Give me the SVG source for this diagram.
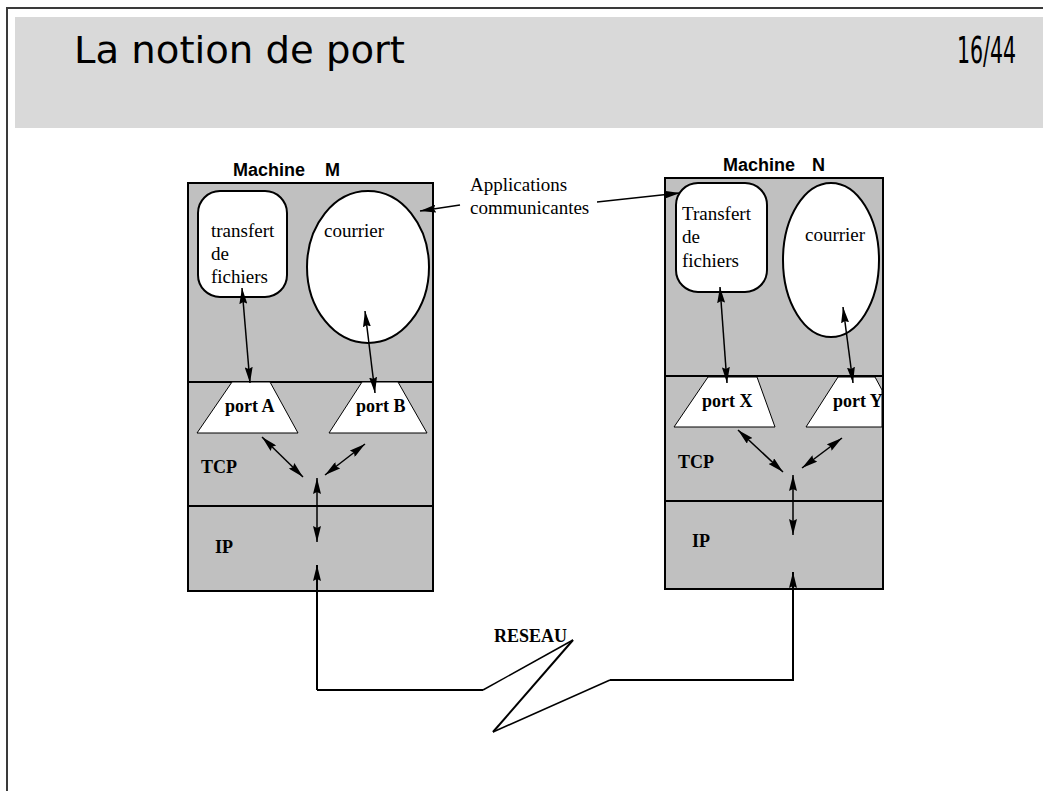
<svg xmlns="http://www.w3.org/2000/svg" width="1043" height="791" viewBox="0 0 1043 791">
  <style>
    .frame { fill: none; stroke: #3a3a3a; stroke-width: 2; }
    .band { fill: #d9d9d9; }
    .title { font-family: "DejaVu Sans Condensed", "DejaVu Sans", sans-serif; font-size: 38px; fill: #000; }
    .machine { fill: #c0c0c0; stroke: #000; stroke-width: 2; }
    .sep { stroke: #000; stroke-width: 2; }
    .app { fill: #fff; stroke: #000; stroke-width: 2; }
    .port { fill: #fff; stroke: #000; stroke-width: 1; }
    .serif { font-family: "Liberation Serif", "Times New Roman", serif; font-size: 19px; fill: #000; }
    .bold { font-family: "Liberation Serif", "Times New Roman", serif; font-size: 18px; font-weight: bold; fill: #000; }
    .head { font-family: "Liberation Sans", Arial, sans-serif; font-size: 18px; font-weight: bold; fill: #000; }
    .link { fill: none; stroke: #000; stroke-width: 1.5; }
    .dbl { fill: none; stroke: #000; stroke-width: 1.5; marker-start: url(#ah); marker-end: url(#ah); }
    .one { fill: none; stroke: #000; stroke-width: 1.5; marker-end: url(#ah); }
    .net { fill: none; stroke: #000; stroke-width: 2; stroke-linejoin: miter; }
  </style>
  <defs>
    <marker id="ah" viewBox="0 0 16 8" refX="16" refY="4" markerWidth="16" markerHeight="8" markerUnits="userSpaceOnUse" orient="auto-start-reverse">
      <path d="M0,0 L16,4 L0,8 L2,4 z" fill="#000"/>
    </marker>
  </defs>

  <!-- slide frame and title band -->
  <g id="slide">
    <path class="frame" d="M7,791 L7,8 L1043,8"/>
    <rect class="band" x="15" y="17" width="1028" height="111"/>
    <text class="title" x="74" y="63" textLength="331" lengthAdjust="spacingAndGlyphs">La notion de port</text>
    <!-- page counter, drawn horizontally condensed -->
    <text class="title" transform="translate(957,63) scale(0.6,1)" x="0" y="0">16/44</text>
  </g>

  <!-- machine M -->
  <g id="machine-m">
    <text class="head" x="233" y="176">Machine</text>
    <text class="head" x="325" y="176">M</text>
    <rect class="machine" x="188" y="183" width="245" height="408"/>
    <line class="sep" x1="188" y1="382" x2="433" y2="382"/>
    <line class="sep" x1="188" y1="506" x2="433" y2="506"/>
    <text class="bold" x="201" y="473">TCP</text>
    <text class="bold" x="215" y="553">IP</text>
  </g>
  <g id="transfert-m">
    <rect class="app" x="198" y="191" width="89" height="106" rx="22"/>
    <text class="serif" x="211" y="237">transfert</text>
    <text class="serif" x="211" y="260">de</text>
    <text class="serif" x="211" y="283">fichiers</text>
  </g>
  <g id="courrier-m">
    <ellipse class="app" cx="368" cy="267" rx="61" ry="76"/>
    <text class="serif" x="324" y="237">courrier</text>
  </g>
  <g id="port-a">
    <polygon class="port" points="232,382 270,382 298,433 197,433"/>
    <text class="bold" x="225" y="412">port A</text>
  </g>
  <g id="port-b">
    <polygon class="port" points="362,382 398,382 427,433 329,433"/>
    <text class="bold" x="356" y="412">port B</text>
  </g>

  <!-- machine N -->
  <g id="machine-n">
    <text class="head" x="723" y="171">Machine</text>
    <text class="head" x="812" y="171">N</text>
    <rect class="machine" x="665" y="178" width="218" height="411"/>
    <line class="sep" x1="665" y1="376" x2="883" y2="376"/>
    <line class="sep" x1="665" y1="501" x2="883" y2="501"/>
    <text class="bold" x="678" y="468">TCP</text>
    <text class="bold" x="692" y="547">IP</text>
  </g>
  <g id="transfert-n">
    <rect class="app" x="676" y="183" width="91" height="109" rx="22"/>
    <text class="serif" x="682" y="220">Transfert</text>
    <text class="serif" x="682" y="243">de</text>
    <text class="serif" x="682" y="267">fichiers</text>
  </g>
  <g id="courrier-n">
    <ellipse class="app" cx="831" cy="260" rx="48" ry="77"/>
    <text class="serif" x="805" y="241">courrier</text>
  </g>
  <g id="port-x">
    <polygon class="port" points="708,377 757,377 775,427 674,427"/>
    <text class="bold" x="702" y="407">port X</text>
  </g>
  <g id="port-y">
    <polygon class="port" points="838,377 875,377 882,390 882,427 806,427"/>
    <text class="bold" x="833" y="407">port Y</text>
  </g>

  <!-- annotation -->
  <g id="applications">
    <text class="serif" x="470" y="191">Applications</text>
    <text class="serif" x="470" y="214">communicantes</text>
  </g>

  <!-- network label -->
  <g id="reseau">
    <text class="bold" x="494" y="642">RESEAU</text>
  </g>

  <!-- connectors -->
  <g id="connectors">
    <line class="one" x1="460" y1="205" x2="420" y2="211"/>
    <line class="one" x1="597" y1="202" x2="680" y2="193"/>

    <line class="dbl" x1="242" y1="288" x2="250" y2="383"/>
    <line class="dbl" x1="365" y1="311" x2="375" y2="393"/>
    <line class="dbl" x1="262" y1="437" x2="303" y2="477" stroke-width="2"/>
    <line class="dbl" x1="365" y1="444" x2="325" y2="475" stroke-width="2"/>
    <line class="dbl" x1="317" y1="478" x2="317" y2="542" stroke-width="2"/>

    <line class="dbl" x1="720" y1="287" x2="727" y2="383"/>
    <line class="dbl" x1="843" y1="307" x2="853" y2="383"/>
    <line class="dbl" x1="738" y1="430" x2="783" y2="472" stroke-width="2"/>
    <line class="dbl" x1="842" y1="438" x2="802" y2="468" stroke-width="2"/>
    <line class="dbl" x1="793" y1="475" x2="793" y2="535" stroke-width="2"/>

    <!-- network link between the two IP layers -->
    <path class="net" d="M317,690 L317,565" marker-end="url(#ah)"/>
    <path class="net" d="M317,690 L483,690"/>
    <path class="link" d="M483,690 L573,640"/>
    <path class="net" d="M573,640 L493,732" stroke-width="3"/>
    <path class="link" d="M493,732 L610,680"/>
    <path class="net" d="M610,680 L793,680 L793,572" marker-end="url(#ah)"/>
  </g>
</svg>
